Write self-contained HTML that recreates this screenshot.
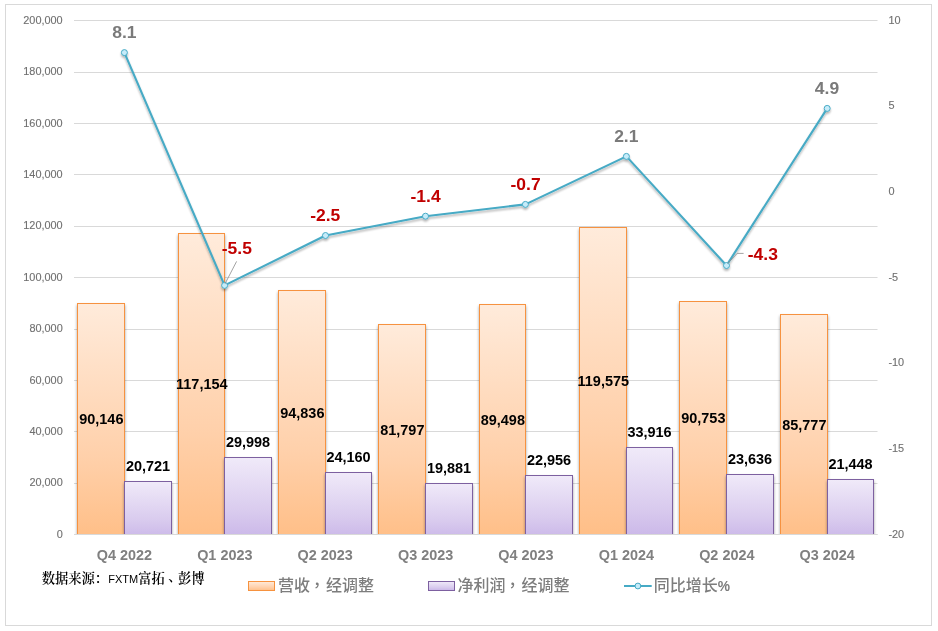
<!DOCTYPE html>
<html lang="zh-CN"><head><meta charset="utf-8"><title>营收与净利润</title>
<style>
html,body{margin:0;padding:0;background:#fff;}
body{width:938px;height:631px;overflow:hidden;}
svg{display:block;}
text{font-family:"Liberation Sans","Noto Sans CJK SC",sans-serif;}
.ax{font-size:10.9px;fill:#707070;stroke:#707070;stroke-width:0.12px;}
.cat{font-size:14px;font-weight:bold;fill:#808080;}
.bl{font-size:14.2px;font-weight:bold;fill:#000;}
.gl{font-size:16.5px;font-weight:bold;}
.pos{fill:#7a7a7a;}
.neg{fill:#c00000;}
.leg{font-size:16px;fill:#7d7d7d;font-family:"Liberation Sans","Noto Sans CJK SC",sans-serif;font-weight:500;}
.src{font-size:13.3px;fill:#000;font-family:"Liberation Sans","Noto Serif CJK SC",serif;font-weight:600;}
</style></head><body>
<svg width="938" height="631" viewBox="0 0 938 631">
<defs>
<linearGradient id="go" x1="0" y1="1" x2="0" y2="0">
<stop offset="0" stop-color="#ffbe86"/><stop offset="0.35" stop-color="#ffd0aa"/><stop offset="1" stop-color="#ffebdb"/>
</linearGradient>
<linearGradient id="gp" x1="0" y1="1" x2="0" y2="0">
<stop offset="0" stop-color="#c9b5e8"/><stop offset="0.35" stop-color="#d9cbee"/><stop offset="1" stop-color="#f0eaf9"/>
</linearGradient>
<filter id="sh" x="-20%" y="-20%" width="140%" height="140%">
<feGaussianBlur in="SourceAlpha" stdDeviation="1.75"/>
<feOffset dx="0" dy="1.5" result="b"/>
<feComponentTransfer><feFuncA type="linear" slope="0.38"/></feComponentTransfer>
<feMerge><feMergeNode/><feMergeNode in="SourceGraphic"/></feMerge>
</filter>
<filter id="shl" x="-10%" y="-10%" width="120%" height="120%">
<feGaussianBlur in="SourceAlpha" stdDeviation="1.2"/>
<feOffset dx="0" dy="1.5" result="b"/>
<feComponentTransfer><feFuncA type="linear" slope="0.3"/></feComponentTransfer>
<feMerge><feMergeNode/><feMergeNode in="SourceGraphic"/></feMerge>
</filter>
<clipPath id="cp"><rect x="70" y="10" width="812" height="524"/></clipPath>
</defs>
<rect x="0" y="0" width="938" height="631" fill="#fff"/>
<rect x="5.5" y="4.5" width="926" height="621" fill="#fff" stroke="#d9d9d9" stroke-width="1"/>
<line x1="74" y1="534.5" x2="877.5" y2="534.5" stroke="#d9d9d9" stroke-width="1"/>
<line x1="74" y1="483.5" x2="877.5" y2="483.5" stroke="#d9d9d9" stroke-width="1"/>
<line x1="74" y1="431.5" x2="877.5" y2="431.5" stroke="#d9d9d9" stroke-width="1"/>
<line x1="74" y1="380.5" x2="877.5" y2="380.5" stroke="#d9d9d9" stroke-width="1"/>
<line x1="74" y1="329.5" x2="877.5" y2="329.5" stroke="#d9d9d9" stroke-width="1"/>
<line x1="74" y1="277.5" x2="877.5" y2="277.5" stroke="#d9d9d9" stroke-width="1"/>
<line x1="74" y1="226.5" x2="877.5" y2="226.5" stroke="#d9d9d9" stroke-width="1"/>
<line x1="74" y1="174.5" x2="877.5" y2="174.5" stroke="#d9d9d9" stroke-width="1"/>
<line x1="74" y1="123.5" x2="877.5" y2="123.5" stroke="#d9d9d9" stroke-width="1"/>
<line x1="74" y1="72.5" x2="877.5" y2="72.5" stroke="#d9d9d9" stroke-width="1"/>
<line x1="74" y1="20.5" x2="877.5" y2="20.5" stroke="#d9d9d9" stroke-width="1"/>
<text class="ax" x="62.70" y="537.70" text-anchor="end">0</text>
<text class="ax" x="62.70" y="486.30" text-anchor="end">20,000</text>
<text class="ax" x="62.70" y="434.90" text-anchor="end">40,000</text>
<text class="ax" x="62.70" y="383.50" text-anchor="end">60,000</text>
<text class="ax" x="62.70" y="332.10" text-anchor="end">80,000</text>
<text class="ax" x="62.70" y="280.70" text-anchor="end">100,000</text>
<text class="ax" x="62.70" y="229.30" text-anchor="end">120,000</text>
<text class="ax" x="62.70" y="177.90" text-anchor="end">140,000</text>
<text class="ax" x="62.70" y="126.50" text-anchor="end">160,000</text>
<text class="ax" x="62.70" y="75.10" text-anchor="end">180,000</text>
<text class="ax" x="62.70" y="23.70" text-anchor="end">200,000</text>
<text class="ax" x="888.40" y="537.70">-20</text>
<text class="ax" x="888.40" y="452.03">-15</text>
<text class="ax" x="888.40" y="366.37">-10</text>
<text class="ax" x="888.40" y="280.70">-5</text>
<text class="ax" x="888.40" y="195.03">0</text>
<text class="ax" x="888.40" y="109.37">5</text>
<text class="ax" x="888.40" y="23.70">10</text>
<g clip-path="url(#cp)">
<g filter="url(#sh)"><rect x="77.5" y="303.5" width="47" height="237.0" fill="url(#go)" stroke="#f6923f" stroke-width="1"/></g>
<g filter="url(#sh)"><rect x="178.5" y="233.5" width="46" height="307.0" fill="url(#go)" stroke="#f6923f" stroke-width="1"/></g>
<g filter="url(#sh)"><rect x="278.5" y="290.5" width="47" height="250.0" fill="url(#go)" stroke="#f6923f" stroke-width="1"/></g>
<g filter="url(#sh)"><rect x="378.5" y="324.5" width="47" height="216.0" fill="url(#go)" stroke="#f6923f" stroke-width="1"/></g>
<g filter="url(#sh)"><rect x="479.5" y="304.5" width="46" height="236.0" fill="url(#go)" stroke="#f6923f" stroke-width="1"/></g>
<g filter="url(#sh)"><rect x="579.5" y="227.5" width="47" height="313.0" fill="url(#go)" stroke="#f6923f" stroke-width="1"/></g>
<g filter="url(#sh)"><rect x="679.5" y="301.5" width="47" height="239.0" fill="url(#go)" stroke="#f6923f" stroke-width="1"/></g>
<g filter="url(#sh)"><rect x="780.5" y="314.5" width="47" height="226.0" fill="url(#go)" stroke="#f6923f" stroke-width="1"/></g>
<g filter="url(#sh)"><rect x="124.5" y="481.5" width="47" height="59.0" fill="url(#gp)" stroke="#7d60a0" stroke-width="1"/></g>
<g filter="url(#sh)"><rect x="224.5" y="457.5" width="47" height="83.0" fill="url(#gp)" stroke="#7d60a0" stroke-width="1"/></g>
<g filter="url(#sh)"><rect x="325.5" y="472.5" width="46" height="68.0" fill="url(#gp)" stroke="#7d60a0" stroke-width="1"/></g>
<g filter="url(#sh)"><rect x="425.5" y="483.5" width="47" height="57.0" fill="url(#gp)" stroke="#7d60a0" stroke-width="1"/></g>
<g filter="url(#sh)"><rect x="525.5" y="475.5" width="47" height="65.0" fill="url(#gp)" stroke="#7d60a0" stroke-width="1"/></g>
<g filter="url(#sh)"><rect x="626.5" y="447.5" width="46" height="93.0" fill="url(#gp)" stroke="#7d60a0" stroke-width="1"/></g>
<g filter="url(#sh)"><rect x="726.5" y="474.5" width="47" height="66.0" fill="url(#gp)" stroke="#7d60a0" stroke-width="1"/></g>
<g filter="url(#sh)"><rect x="827.5" y="479.5" width="46" height="61.0" fill="url(#gp)" stroke="#7d60a0" stroke-width="1"/></g>
</g>
<line x1="74" y1="534.5" x2="877.5" y2="534.5" stroke="#d9d9d9" stroke-width="1"/>
<text class="bl" transform="translate(101.30 423.66) scale(1.02 1)" text-anchor="middle">90,146</text>
<text class="bl" transform="translate(148.00 471.05) scale(1.02 1)" text-anchor="middle">20,721</text>
<text class="bl" transform="translate(201.80 388.96) scale(1.02 1)" text-anchor="middle">117,154</text>
<text class="bl" transform="translate(248.00 447.21) scale(1.02 1)" text-anchor="middle">29,998</text>
<text class="bl" transform="translate(302.30 417.64) scale(1.02 1)" text-anchor="middle">94,836</text>
<text class="bl" transform="translate(348.50 462.21) scale(1.02 1)" text-anchor="middle">24,160</text>
<text class="bl" transform="translate(402.30 435.09) scale(1.02 1)" text-anchor="middle">81,797</text>
<text class="bl" transform="translate(449.00 473.21) scale(1.02 1)" text-anchor="middle">19,881</text>
<text class="bl" transform="translate(502.80 424.50) scale(1.02 1)" text-anchor="middle">89,498</text>
<text class="bl" transform="translate(549.00 465.30) scale(1.02 1)" text-anchor="middle">22,956</text>
<text class="bl" transform="translate(603.30 385.85) scale(1.02 1)" text-anchor="middle">119,575</text>
<text class="bl" transform="translate(649.50 437.14) scale(1.02 1)" text-anchor="middle">33,916</text>
<text class="bl" transform="translate(703.30 422.88) scale(1.02 1)" text-anchor="middle">90,753</text>
<text class="bl" transform="translate(750.00 463.56) scale(1.02 1)" text-anchor="middle">23,636</text>
<text class="bl" transform="translate(804.30 429.98) scale(1.02 1)" text-anchor="middle">85,777</text>
<text class="bl" transform="translate(850.50 469.18) scale(1.02 1)" text-anchor="middle">21,448</text>
<g filter="url(#shl)"><polyline points="124.40,52.60 224.60,285.40 325.50,235.50 425.50,216.20 525.40,204.40 626.40,156.40 726.50,265.50 827.20,108.40" fill="none" stroke="#46aac5" stroke-width="2.1" stroke-linejoin="round" stroke-linecap="round"/>
<circle cx="124.40" cy="52.60" r="3" fill="#c6ecfa" stroke="#46aac5" stroke-width="1"/>
<circle cx="224.60" cy="285.40" r="3" fill="#c6ecfa" stroke="#46aac5" stroke-width="1"/>
<circle cx="325.50" cy="235.50" r="3" fill="#c6ecfa" stroke="#46aac5" stroke-width="1"/>
<circle cx="425.50" cy="216.20" r="3" fill="#c6ecfa" stroke="#46aac5" stroke-width="1"/>
<circle cx="525.40" cy="204.40" r="3" fill="#c6ecfa" stroke="#46aac5" stroke-width="1"/>
<circle cx="626.40" cy="156.40" r="3" fill="#c6ecfa" stroke="#46aac5" stroke-width="1"/>
<circle cx="726.50" cy="265.50" r="3" fill="#c6ecfa" stroke="#46aac5" stroke-width="1"/>
<circle cx="827.20" cy="108.40" r="3" fill="#c6ecfa" stroke="#46aac5" stroke-width="1"/>
</g>
<line x1="236.6" y1="261.4" x2="225" y2="283.8" stroke="#8c8c8c" stroke-width="0.8"/>
<polyline points="727.5,263.6 737.2,253.4 743.6,253.4" fill="none" stroke="#8c8c8c" stroke-width="0.8"/>
<text class="gl pos" transform="translate(124.40 37.90) scale(1.06 1)" text-anchor="middle">8.1</text>
<text class="gl neg" transform="translate(236.80 253.70) scale(1.06 1)" text-anchor="middle">-5.5</text>
<text class="gl neg" transform="translate(325.20 220.80) scale(1.06 1)" text-anchor="middle">-2.5</text>
<text class="gl neg" transform="translate(425.60 201.80) scale(1.06 1)" text-anchor="middle">-1.4</text>
<text class="gl neg" transform="translate(525.60 189.80) scale(1.06 1)" text-anchor="middle">-0.7</text>
<text class="gl pos" transform="translate(626.30 141.90) scale(1.06 1)" text-anchor="middle">2.1</text>
<text class="gl neg" transform="translate(762.80 260.10) scale(1.06 1)" text-anchor="middle">-4.3</text>
<text class="gl pos" transform="translate(827.00 94.30) scale(1.06 1)" text-anchor="middle">4.9</text>
<text class="cat" transform="translate(124.40 560.00) scale(1.03 1)" text-anchor="middle">Q4 2022</text>
<text class="cat" transform="translate(224.80 560.00) scale(1.03 1)" text-anchor="middle">Q1 2023</text>
<text class="cat" transform="translate(325.20 560.00) scale(1.03 1)" text-anchor="middle">Q2 2023</text>
<text class="cat" transform="translate(425.60 560.00) scale(1.03 1)" text-anchor="middle">Q3 2023</text>
<text class="cat" transform="translate(526.00 560.00) scale(1.03 1)" text-anchor="middle">Q4 2023</text>
<text class="cat" transform="translate(626.40 560.00) scale(1.03 1)" text-anchor="middle">Q1 2024</text>
<text class="cat" transform="translate(726.80 560.00) scale(1.03 1)" text-anchor="middle">Q2 2024</text>
<text class="cat" transform="translate(827.20 560.00) scale(1.03 1)" text-anchor="middle">Q3 2024</text>
<text class="src" x="41.7" y="583">数据来源：<tspan font-size="11px" font-weight="normal">FXTM</tspan>富拓<tspan dx="3.5" dy="-2.5">、</tspan><tspan dx="-3.5" dy="2.5">彭博</tspan></text>
<rect x="248.5" y="581.5" width="26" height="9" fill="url(#go)" stroke="#f6923f" stroke-width="1"/>
<text class="leg" x="278" y="590.8">营收<tspan dx="3" dy="-5">，</tspan><tspan dx="-3" dy="5">经调整</tspan></text>
<rect x="428.5" y="581.5" width="26" height="9" fill="url(#gp)" stroke="#7d60a0" stroke-width="1"/>
<text class="leg" x="457.5" y="590.8">净利润<tspan dx="3" dy="-5">，</tspan><tspan dx="-3" dy="5">经调整</tspan></text>
<line x1="624" y1="586" x2="651.7" y2="586" stroke="#46aac5" stroke-width="2"/>
<circle cx="637.9" cy="586" r="2.9" fill="#c6ecfa" stroke="#46aac5" stroke-width="1"/>
<text class="leg" x="653.8" y="590.8">同比增长<tspan font-size="13.8px" font-weight="bold" dy="-0.3">%</tspan></text>
</svg></body></html>
